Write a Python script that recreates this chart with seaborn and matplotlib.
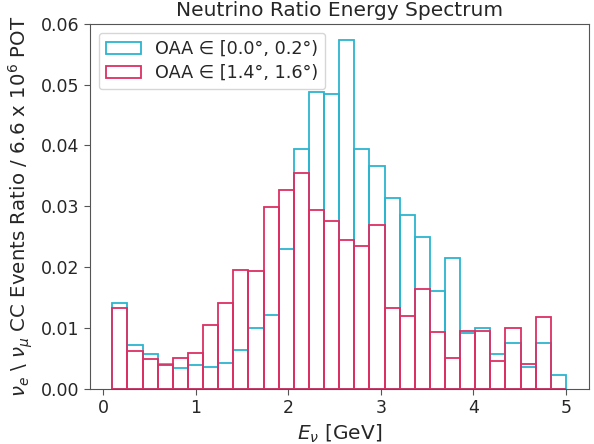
import numpy as np
import pandas as pd
import seaborn as sns
import matplotlib.pyplot as plt

# energy binning (GeV): 30 bins from 0.1 to 5.0
e_min, e_max, n_bins = 0.1, 5.0, 30
bin_edges = np.linspace(e_min, e_max, n_bins + 1)
bin_centers = 0.5 * (bin_edges[:-1] + bin_edges[1:])

# ratio per bin, OAA in [0.0, 0.2)
ratio_low = [0.0141, 0.0071, 0.0057, 0.0041, 0.0033, 0.0039, 0.0035, 0.0042,
             0.0064, 0.0099, 0.0121, 0.0230, 0.0395, 0.0488, 0.0484, 0.0573,
             0.0395, 0.0367, 0.0313, 0.0285, 0.0250, 0.0161, 0.0214, 0.0091,
             0.0099, 0.0057, 0.0075, 0.0035, 0.0075, 0.0022]
# ratio per bin, OAA in [1.4, 1.6)
ratio_high = [0.0133, 0.0061, 0.0049, 0.0038, 0.0050, 0.0059, 0.0105, 0.0141,
              0.0195, 0.0194, 0.0298, 0.0326, 0.0355, 0.0294, 0.0275, 0.0245,
              0.0234, 0.0269, 0.0133, 0.0119, 0.0164, 0.0093, 0.0051, 0.0095,
              0.0095, 0.0046, 0.0099, 0.0041, 0.0118, 0.0]

labels = ['OAA ∈ [0.0°, 0.2°)', 'OAA ∈ [1.4°, 1.6°)']
colors = ['#2bb5cf', '#dc2f63']

sns.set_style('white')
plt.rcParams['font.family'] = ['DejaVu Sans']

fig, ax = plt.subplots(figsize=(5.94, 4.44), dpi=100)
fig.subplots_adjust(left=0.151, right=0.991, top=0.946, bottom=0.125)

for vals, lab, col in zip([ratio_low, ratio_high], labels, colors):
    df = pd.DataFrame({'E': bin_centers, 'w': vals})
    sns.histplot(data=df, x='E', weights='w', bins=n_bins, binrange=(e_min, e_max),
                 element='bars', fill=False, color=col, linewidth=1.3,
                 label=lab, ax=ax)

ax.set_title('Neutrino Ratio Energy Spectrum', fontsize=14.5)
ax.set_xlabel(r'$E_\nu$ [GeV]', fontsize=14.5)
ax.set_ylabel(r'$\nu_e$ \ $\nu_\mu$ CC Events Ratio / 6.6 x $10^6$ POT', fontsize=14.2)
ax.tick_params(labelsize=12.5, left=True, bottom=True, length=4, color='#555555')
ax.set_ylim(0, 0.06)
ax.set_xticks([0, 1, 2, 3, 4, 5])
ax.set_yticks([0, 0.01, 0.02, 0.03, 0.04, 0.05, 0.06])
ax.set_yticklabels(['0.00', '0.01', '0.02', '0.03', '0.04', '0.05', '0.06'])
for sp in ax.spines.values():
    sp.set_color('#555555')
ax.legend(loc='upper left', fontsize=12.7, labelspacing=0.35)

plt.savefig('out.png')
